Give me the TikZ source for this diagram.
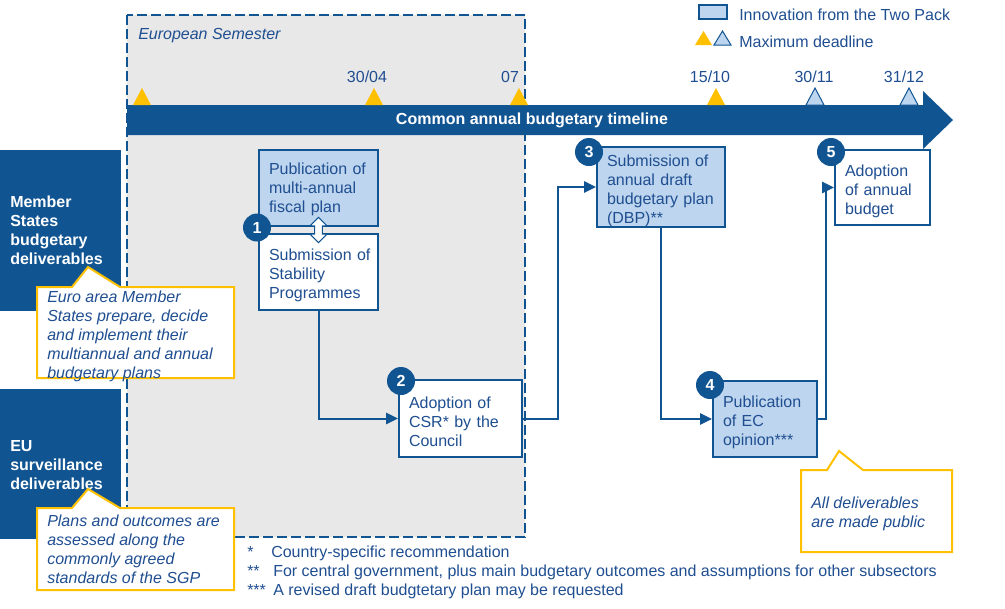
\documentclass[tikz,border=0pt]{standalone}
\usepackage{fontspec}
\setmainfont{Liberation Sans}
\usetikzlibrary{arrows.meta,shapes.arrows,calc}
\definecolor{eublue}{RGB}{17,84,146}
\definecolor{txtblue}{RGB}{31,78,145}
\definecolor{lightfill}{RGB}{189,213,238}
\definecolor{semgray}{RGB}{232,232,232}
\definecolor{ylw}{RGB}{255,192,0}
\newcommand{\toppad}{\rule{0pt}{13.3pt}}
\tikzset{
  ytri/.pic={\fill[ylw] (-9,0) -- (0,-17) -- (9,0) -- cycle;},
  btri/.pic={\filldraw[fill=lightfill, draw=eublue, line width=0.75pt] (-9,0) -- (0,-17) -- (9,0) -- cycle;},
}
\begin{document}
\begin{tikzpicture}[x=0.75pt,y=-0.75pt,
  every node/.style={font=\fontsize{12}{14.25}\selectfont, text=txtblue},
  stepbox/.style={draw=eublue, line width=1.5pt, inner xsep=7.5pt, inner ysep=0pt, align=left, minimum height=57pt},
  numc/.style={circle, fill=eublue, text=white, font=\bfseries\fontsize{12}{14}\selectfont, minimum size=21pt, inner sep=0pt},
  conn/.style={draw=eublue, line width=1.5pt, -{Triangle[length=9pt,width=8.5pt]}},
  panel/.style={fill=eublue, anchor=north west, minimum width=90.75pt, inner sep=0pt},
  paneltext/.style={text=white, font=\bfseries\fontsize{12}{14.25}\selectfont, align=left, inner sep=0pt, anchor=west},
  calltext/.style={font=\itshape\fontsize{12}{14.25}\selectfont, align=left, inner sep=0pt, anchor=west},
  callout/.style={draw=ylw, line width=1.5pt, fill=white, line join=miter},
  datelabel/.style={inner sep=0pt},
  plain/.style={inner sep=0pt},
]
\useasboundingbox (0,0) rectangle (1005,608);

% European Semester area
\filldraw[fill=semgray, draw=eublue, line width=1.5pt, dash pattern=on 7.5pt off 3pt] (127,15) rectangle (525,537);
\node[plain, anchor=base west, font=\itshape\fontsize{12}{14.25}\selectfont] (sem) at (138,39) {European Semester};

% Legend
\node[draw=eublue, fill=lightfill, line width=0.8pt, minimum width=21pt, minimum height=10.5pt, inner sep=0pt] (leg1) at (713,12) {};
\node[plain, anchor=west] (leg1t) at (739,15) {Innovation from the Two Pack};
\fill[ylw] (695,45) -- (703.5,31) -- (712,45) -- cycle;
\filldraw[fill=lightfill, draw=eublue, line width=0.75pt] (714,45) -- (722.5,31) -- (731,45) -- cycle;
\node[plain, anchor=west] (leg2t) at (739,42) {Maximum deadline};

% Left panels
\node[panel, minimum height=120.75pt] (ms) at (0,150) {};
\node[paneltext] (mst) at (10,230) {Member\\States\\budgetary\\deliverables};
\node[panel, minimum height=112.5pt] (eu) at (0,389) {};
\node[paneltext] (eut) at (10,465.5) {EU\\surveillance\\deliverables};

% Timeline
\fill[eublue] (127,105) -- (923,105) -- (923,91) -- (953,120) -- (923,149) -- (923,135) -- (127,135) -- cycle;
\node[plain, text=white, font=\bfseries\fontsize{12}{14.25}\selectfont] (tl) at (532,120) {Common annual budgetary timeline};

\pic at (142,105) {ytri};
\pic at (374,105) {ytri};
\pic at (519,105) {ytri};
\pic at (716,105) {ytri};
\pic at (815,105) {btri};
\pic at (909,105) {btri};
\node[datelabel] (d1) at (367,77) {30/04};
\node[datelabel] (d2) at (510,77) {07};
\node[datelabel] (d3) at (710,77) {15/10};
\node[datelabel] (d4) at (814,77) {30/11};
\node[datelabel] (d5) at (904,77) {31/12};

% Step boxes
\node[stepbox, fill=lightfill, minimum width=89.25pt, text width=74.25pt] (b1) at (318.5,188) {\rule{0pt}{11pt}Publication~of\\multi-annual\\fiscal~plan};
\node[stepbox, fill=white, minimum width=89.25pt, text width=74.25pt] (bsp) at (318.5,272) {\toppad Submission~of\\Stability\\Programmes};
\node[stepbox, fill=white, minimum width=92.25pt, text width=77.25pt, minimum height=57.75pt] (b2) at (460.5,418.5) {\toppad Adoption~of\\CSR*~by~the\\Council};
\node[stepbox, fill=lightfill, minimum width=96pt, text width=81pt] (b3) at (661,187) {\rule{0pt}{14.5pt}Submission~of\\annual~draft\\budgetary~plan\\(DBP)**};
\node[stepbox, fill=lightfill, minimum width=78pt, text width=63pt] (b4) at (765,419) {\toppad Publication\\of~EC\\opinion***};
\node[stepbox, fill=white, minimum width=71.25pt, text width=56.25pt, minimum height=56.25pt] (b5) at (882.5,187.5) {\rule{0pt}{14.5pt}Adoption\\of~annual\\budget};

% Double arrow between the two boxes of step 1
\node[double arrow, draw=eublue, fill=white, line width=0.8pt, rotate=90, minimum height=19pt, inner xsep=0pt, inner ysep=2.5pt, double arrow head extend=3.5pt, double arrow head indent=0pt] (da) at ($(b1.south)!0.5!(bsp.north)$) {};

% Connectors
\coordinate (k2) at (558,300);
\coordinate (k4) at (826,300);
\draw[conn] (bsp.south) |- (b2.west);
\draw[conn] (b2.east) -- (b2.east -| k2) |- (b3.west);
\draw[conn] (b3.south) |- (b4.west);
\draw[conn] (b4.east) -- (b4.east -| k4) |- (b5.west);

% Number circles
\node[numc] (n1) at (257,227.5) {1};
\node[numc] (n2) at (401,381) {2};
\node[numc] (n3) at (589,152) {3};
\node[numc] (n4) at (710,385) {4};
\node[numc] (n5) at (831,152) {5};

% Callouts
\filldraw[callout] (37,287) -- (72,287) -- (88,267) -- (120,287) -- (234,287) -- (234,378) -- (37,378) -- cycle;
\node[calltext] (c1) at (47,336) {Euro area Member\\States prepare, decide\\and implement their\\multiannual and annual\\budgetary plans};
\filldraw[callout] (37,508) -- (72,508) -- (88,489) -- (120,508) -- (234,508) -- (234,590) -- (37,590) -- cycle;
\node[calltext] (c2) at (47,549.5) {Plans and outcomes are\\assessed along the\\commonly agreed\\standards of the SGP};
\filldraw[callout] (801,470) -- (827,470) -- (839,451) -- (863,470) -- (952,470) -- (952,552) -- (801,552) -- cycle;
\node[calltext] (c3) at (811,514) {All deliverables\\are made public};

% Footnotes
\node[plain, anchor=base west] (f1m) at (247,557.5) {*};
\node[plain, anchor=base west] (f1) at (271,557.5) {Country-specific recommendation};
\node[plain, anchor=base west] (f2m) at (247,576.5) {**};
\node[plain, anchor=base west] (f2) at (273,576.5) {For central government, plus main budgetary outcomes and assumptions for other subsectors};
\node[plain, anchor=base west] (f3m) at (247,595.5) {***};
\node[plain, anchor=base west] (f3) at (273,595.5) {A revised draft budgtetary plan may be requested};
\end{tikzpicture}
\end{document}
